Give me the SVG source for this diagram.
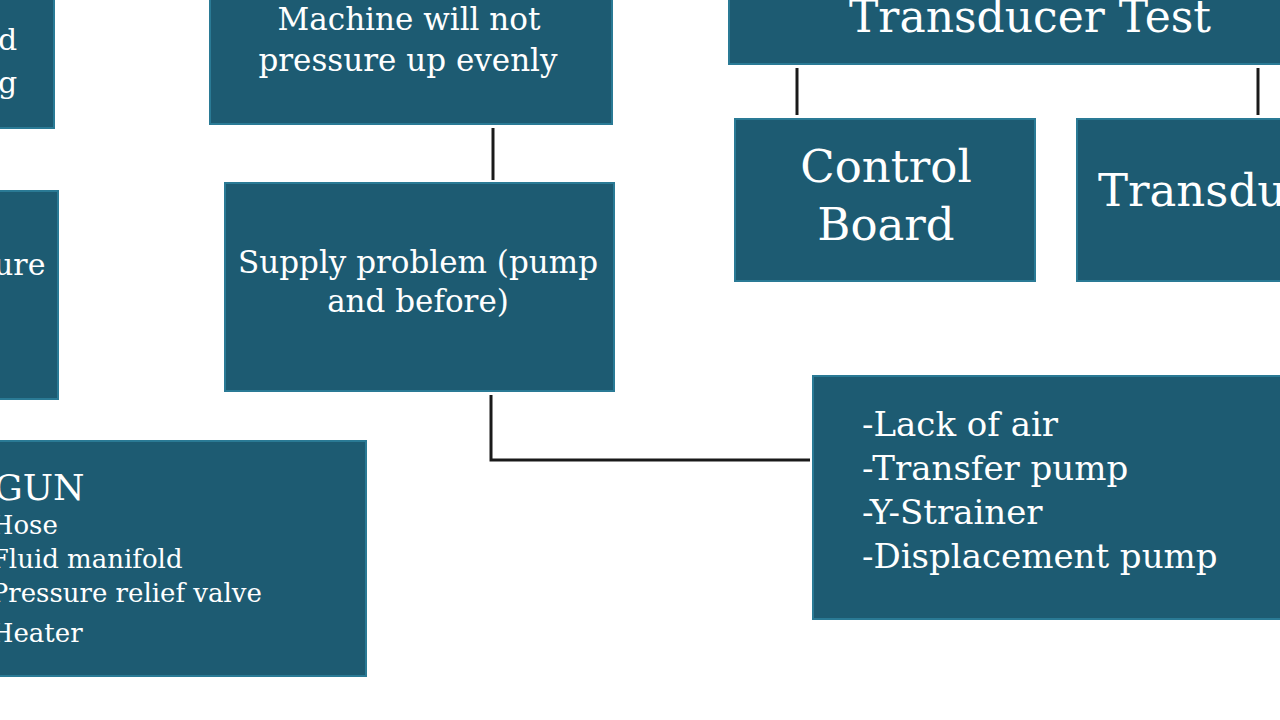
<svg xmlns="http://www.w3.org/2000/svg" width="1280" height="720" viewBox="0 0 1280 720">
<style>
.b{fill:#1d5b72;stroke:#2a7a95;stroke-width:2}
.t{fill:#ffffff;font-family:"DejaVu Serif","Liberation Serif",serif}
.c{stroke:#1a1a1a;stroke-width:3;fill:none}
</style>
<rect width="1280" height="720" fill="#ffffff"/>
<g id="connectors">
<line class="c" x1="493" y1="128" x2="493" y2="180"/>
<line class="c" x1="797" y1="68" x2="797" y2="115"/>
<line class="c" x1="1258" y1="68" x2="1258" y2="115"/>
<path class="c" d="M491,395 V460 H810"/>
</g>
<g id="n1"><rect class="b" x="-5" y="-5" width="59" height="133"/>
<text class="t" x="-2" y="50" font-size="30">d</text><text class="t" x="-2" y="93" font-size="30">g</text></g>
<g id="n2"><rect class="b" x="210" y="-5" width="402" height="129"/>
<text class="t" x="409" y="30" font-size="31" text-anchor="middle">Machine will not</text>
<text class="t" x="408" y="71" font-size="31" text-anchor="middle">pressure up evenly</text></g>
<g id="n3"><rect class="b" x="729" y="-5" width="560" height="69"/>
<text class="t" x="1030" y="32" font-size="44" text-anchor="middle">Transducer Test</text></g>
<g id="n4"><rect class="b" x="735" y="119" width="300" height="162"/>
<text class="t" x="886" y="182" font-size="45" text-anchor="middle">Control</text>
<text class="t" x="886" y="240" font-size="45" text-anchor="middle">Board</text></g>
<g id="n5"><rect class="b" x="1077" y="119" width="210" height="162"/>
<text class="t" x="1098" y="206" font-size="45">Transdu</text></g>
<g id="n6"><rect class="b" x="-5" y="191" width="63" height="208"/>
<text class="t" x="-6" y="275" font-size="30">ure</text></g>
<g id="n7"><rect class="b" x="225" y="183" width="389" height="208"/>
<text class="t" x="418" y="273" font-size="31" text-anchor="middle">Supply problem (pump</text>
<text class="t" x="418" y="312" font-size="31" text-anchor="middle">and before)</text></g>
<g id="n8"><rect class="b" x="-5" y="441" width="371" height="235"/>
<text class="t" x="-6" y="500" font-size="36">GUN</text>
<text class="t" x="-18" y="534" font-size="26">-Hose</text>
<text class="t" x="-18" y="568" font-size="26">-Fluid manifold</text>
<text class="t" x="-18" y="602" font-size="26">-Pressure relief valve</text>
<text class="t" x="-18" y="642" font-size="26">-Heater</text></g>
<g id="n9"><rect class="b" x="813" y="376" width="475" height="243"/>
<text class="t" x="862" y="436" font-size="34">-Lack of air</text>
<text class="t" x="862" y="480" font-size="34">-Transfer pump</text>
<text class="t" x="862" y="524" font-size="34">-Y-Strainer</text>
<text class="t" x="862" y="568" font-size="34">-Displacement pump</text></g>
</svg>
